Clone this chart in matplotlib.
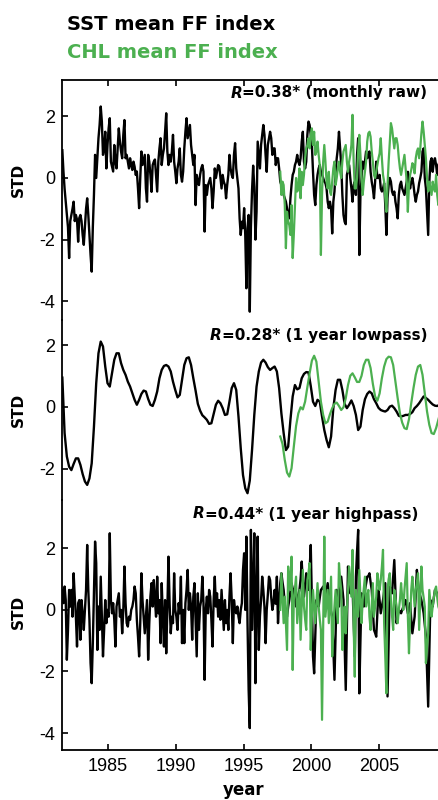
#
# SST / CHL mean FF index, three stacked panels (raw, lowpass, highpass)
#
import numpy as np
import matplotlib
matplotlib.use("Agg")
import matplotlib.pyplot as plt

plt.rcParams['font.family'] = ['Liberation Sans', 'DejaVu Sans']
plt.rcParams['axes.unicode_minus'] = False

# Data
##########################################################################################
sst_start = 1981.625      # monthly SST series
chl_start = 1997.708      # monthly CHL series (SeaWiFS era)
low_step = 1.0 / 6        # lowpass curves read every two months

sst_raw = [0.9, 0.2, -0.35, -0.77, -1.2, -1.6, -2.6, -1.4, -1.2, -1.0,
           -0.77, -1.4, -1.2, -1.35, -2.07, -1.3, -1.2, -1.4, -1.85, -2.17,
           -1.6, -1.0, -0.66, -1.2, -1.85, -2.5, -3.04, -1.6, -0.55, 0.75,
           0.0, 0.64, 1.29, 1.72, 2.32, 1.83, 0.75, 0.96, 1.5, 0.31,
           1.07, 1.61, 1.94, 0.53, 0.37, 0.21, 1.07, 0.53, 0.31, 0.96,
           1.61, 1.18, 0.86, 0.64, 1.4, 1.88, 0.64, 0.75, 0.53, 0.31,
           0.64, 0.42, 0.26, 0.53, 0.37, 0.1, 0.21, -0.34, -0.98, 0.0,
           0.86, 0.42, 0.58, 0.75, -0.34, -0.77, 0.75, 0.53, 0.1, -0.45,
           0.42, 0.53, 0.6, 0.1, -0.44, 0.53, 0.96, 1.29, 0.42, 0.75,
           0.96, 1.5, 2.1, 0.86, 0.42, 0.75, 0.53, 0.86, 1.4, 0.53,
           0.21, -0.17, 0.31, 0.53, 0.96, 0.1, -0.12, 0.21, 0.96, 1.5,
           1.94, 1.29, 1.5, 1.72, 1.07, 0.75, 0.42, 0.75, -0.88, 0.1,
           -0.12, -0.23, 0.1, 0.31, 0.42, 0.21, -1.74, -0.23, -0.55, -0.23,
           -0.12, 0.0, -0.34, -0.98, -0.44, 0.31, 0.0, 0.21, 0.42, 0.37,
           0.0, -0.34, 0.1, -0.12, -0.23, -0.66, -0.23, 0.1, 0.75, 0.31,
           0.1, 0.0, 0.75, 1.13, 0.31, 0.0, -0.34, -1.31, -1.85, -1.42,
           -1.63, -0.98, -1.85, -3.58, -1.63, -1.2, -4.34, -1.6, -0.4, 0.4,
           -0.3, -2.0, -1.1, 1.18, 0.75, 0.31, 1.07, 1.4, 1.72, 1.4,
           0.75, 0.2, 1.07, 1.29, 1.5, 1.29, 0.75, 0.96, 0.96, 0.42,
           0.64, 0.64, 0.31, -0.12, -0.23, -0.34, -0.55, -0.66, -0.77, -0.98,
           -1.2, -1.31, -0.66, -0.23, 0.1, 0.2, 0.42, 0.53, 0.75, 0.53,
           0.42, 0.64, 1.18, 1.5, 0.53, 0.31, 0.53, 1.4, 1.83, 1.72,
           1.4, 1.07, 0.2, -0.55, -0.88, -0.23, 0.1, 0.31, 0.42, 0.2,
           0.1, 0.0, -0.12, -0.17, -0.34, -0.77, -0.98, -0.77, -0.98, -1.8,
           -0.77, -0.44, 0.2, 0.64, 0.96, 1.5, 0.96, 0.42, -0.55, -1.2,
           -1.42, -1.5,
           0.1, 0.26, 0.42, 0.0, -0.34, -0.77, -0.23, -0.12, -0.55, 0.75,
           1.29, -2.5, -0.55, 0.0, 0.53, 0.31, 0.53, 0.86, 0.64, 0.7,
           0.86, 0.2, -0.12, -0.34, -0.66, -0.12, 0.53, 0.0, 0.0, 0.1,
           -0.34, -0.44, -0.34, -0.17, -0.88, -1.85, -0.66, -0.23, 0.0, -0.12,
           -0.44, -0.55, -0.44, -0.77, -0.98, -1.31, -0.55, -0.23, -0.12, -0.34,
           -0.44, -0.55, -0.34, -0.12, 0.2, -0.12, -0.34, -0.12, 0.0, -0.23,
           -0.55, -0.77, -0.55, -0.44, -0.17, 0.0, 0.2, 0.86, 0.96, 0.0,
           -0.34, -1.1, -1.85, -0.12, 0.53, 0.64, 0.2, 0.53, 0.64, 0.42,
           0.1, 0.42, 0.53]

chl_raw = [0.2, -0.55, -0.12, -0.23, -0.88, -2.28, -1.1, -1.42, -1.53, -1.85,
           -0.88, -2.6, -1.85, -0.88, 0.0, -0.44, -0.34, 0.31, -0.66, 0.2,
           -0.23, 0.1, 0.64, 0.96, 1.07, 1.29, 0.96, 1.4, 1.61, 1.07,
           1.5, 0.75, 0.86, 1.18, 0.75, 0.42, -2.5, -0.55, 0.53, 1.07,
           0.53, -0.12, -0.34, 0.2, -0.44, -0.55, -0.12, 0.31, 0.53, -0.23,
           0.0, 0.31, 0.53, 0.2, 0.0, 0.53, 0.86, 0.96,
           1.07, 0.53, 0.2, 0.53, 0.75, 1.07, 2.05, 0.53, -0.34, -0.34,
           0.0, 0.86, 1.4, 0.75, 0.0, -0.55, -0.12, 0.2, 0.53, 1.18,
           1.45, 1.5, 1.34, 0.86, 0.53, 0.1, 0.0, 0.2, 0.42, 0.64,
           0.8, 1.29, 0.64, 0.1, -0.12, -0.66, -1.1, -0.23, 0.53, 1.18,
           1.78, 1.61, 1.29, 0.96, 1.29, 1.29, 1.07, 0.64, 0.31, 0.1,
           0.31, 0.53, 0.75, 0.31, -0.12, -1.1, -0.23, 0.1, 0.26, 0.48,
           0.42, 0.15, 0.64, 0.86, 0.96, 0.64, 0.96, 1.45, 1.83, 1.5,
           1.07, 0.64, 0.0, -0.44, -0.12, -0.34, -0.55, -0.12, -0.34, -0.44,
           0.1, -0.55, -0.88, -0.34]

sst_low = [0.95, -0.85, -1.61, -1.94, -2.05, -1.85, -1.67, -1.67, -1.88, -2.18,
           -2.42, -2.53, -2.32, -1.83, -0.64, 0.77, 1.74, 2.12, 1.96, 1.31,
           0.77, 0.66, 1.09, 1.53, 1.74, 1.74, 1.42, 1.2, 1.04, 0.82,
           0.66, 0.44, 0.23, 0.07, 0.23, 0.42, 0.53, 0.5, 0.26, 0.07,
           0.03, 0.23, 0.5, 0.93, 1.2, 1.33, 1.36, 1.31, 1.15, 0.82,
           0.55, 0.31, 0.39, 0.88, 1.36, 1.58, 1.61, 1.36, 0.93, 0.53,
           0.1, -0.12, -0.27, -0.34, -0.42, -0.55, -0.53, -0.23, 0.07, 0.2,
           0.12, -0.04, -0.26, -0.24, 0.17, 0.61, 0.77, 0.55, -0.31, -1.34,
           -2.21, -2.64, -2.8, -2.39, -1.4, -0.26, 0.66, 1.15, 1.44, 1.53,
           1.44, 1.29, 1.2, 1.26, 1.31, 1.15, 0.61, -0.21, -0.85, -1.4,
           -1.29, -0.42, 0.34, 0.71, 0.57, 0.61, 0.93, 1.07, 1.13, 1.12,
           0.68, 0.17, 0.03, 0.23, 0.17, -0.31, -0.75, -1.07, -1.31, -0.96,
           -0.04, 0.55, 0.88, 0.88, 0.55, 0.1, -0.04, 0.07, 0.21, 0.03,
           -0.26, -0.75, -0.64, -0.1, 0.25, 0.42, 0.5, 0.44, 0.25, 0.12,
           -0.03, -0.1, -0.13, -0.15, -0.1, 0.01, 0.04, -0.04, -0.15, -0.29,
           -0.31, -0.29, -0.26, -0.26, -0.23, -0.17, -0.04, 0.03, 0.12, 0.23,
           0.34, 0.29, 0.23, 0.15, 0.08, 0.04, 0.03, 0.07]

chl_low = [-0.96, -1.2, -1.72, -2.13, -2.26, -1.99, -1.29, -0.62, -0.21, -0.01,
           -0.08, 0.17, 0.64, 1.09, 1.5, 1.66, 1.47, 0.82, 0.17, -0.26,
           -0.53, -0.48, -0.24, -0.04, 0.1, 0.14, 0.03, -0.1, -0.01, 0.28,
           0.71, 1.01, 1.09, 0.96, 0.81, 0.81, 1.01, 1.36, 1.53, 1.53,
           1.26, 0.75, 0.34, 0.2, 0.44, 0.93, 1.31, 1.55, 1.63, 1.61,
           1.36, 0.82, 0.28, -0.21, -0.51, -0.69, -0.72, -0.4, 0.12, 0.61,
           1.04, 1.31, 1.36, 1.04, 0.44, -0.15, -0.58, -0.85, -0.88, -0.69,
           -0.42, -0.15]

sst_high = [0.65, 0.22, 0.76, 0.32, -1.62, -0.65, 0.65, 0.11, 0.65, -0.22,
            1.19, 0.43, -0.22, -1.19, 0.22, 0.32, -0.97, 0.32, -0.11, -0.65,
            0.0, 0.65, 2.11, 0.65, -0.32, -1.73, -2.38, -1.08, 0.65, 2.22,
            1.52, -1.3, 0.11, -0.65, 1.08, -0.22, -1.51, -0.65, 0.32, -0.43,
            0.0, -0.22, 2.49, 0.32, -0.11, 0.22, -0.32, -1.19, 0.11, 0.32,
            0.54, -0.22, 0.0, -0.76, 0.0, 1.41, 0.22, -0.43, -0.54, -0.22,
            -0.32, 0.0, 0.11, 0.32, 0.76, 0.54, -0.32, -0.87, -1.51, -0.43,
            1.19, 0.32, -0.22, -0.76, -0.22, 0.32, -1.62, -0.43, 0.43, 0.87,
            0.11, 0.97, 0.32, -0.22, 1.08, -0.11, 0.32, -1.08, 0.87, -0.22,
            -1.19, 0.32, -1.41, 0.0, 1.73, 0.22, -0.76, -0.22, -0.43,
            1.19, 0.0, -0.22, -0.65, 0.22, -0.11, 1.08, -1.08, 0.0, -1.08,
            0.22, 0.65, 1.3, 0.0, 0.54, 0.11, -0.97, 0.43, 0.87, -0.32,
            -1.51, 0.54, -0.65, 0.11, 0.32, 1.08, 0.22, -2.27, 0.0,
            0.43, -0.11, 0.65, 0.43, -0.32, -1.19, 0.32, 1.08, 0.11, 0.54,
            -0.22, 0.32, -0.32, 0.65, 0.0, -0.65, 0.32, -0.43, 0.0, -0.65,
            0.43, 1.19, 0.32, -1.08, 0.32, 0.0, -0.11, 0.11, -0.22, -0.43,
            0.0, 0.22, 1.3, 1.84, 0.0, 2.38, -0.43, -2.6, -3.84,
            2.6, -0.65, 0.8, 2.49, -2.38, 0.3, 2.38, -1.3, -0.2, 0.32,
            1.08, 0.65, 0.1, -1.08, 0.0, 0.5, 1.08, 0.97, 0.4, 0.0,
            0.22, 0.65, 0.2, 1.08, -0.43, 0.3, 0.87,
            1.19, 0.9, 0.65, 0.2, -0.1, -0.22, 0.1, 0.32, 0.6, 0.87,
            0.7, 0.65, 0.35, 0.11, 0.4, 0.5, 0.65, 1.0, 1.57, 0.9,
            0.43, 0.8, 1.19, 0.9, 0.65, 1.3, 2.11, 0.3, -1.51, -2.06,
            -0.9, 0.32, 0.2, 0.11, 0.4, 0.65, 0.7, 0.76, 0.6, 0.43,
            0.65, 0.87, 0.5, 0.11, -0.05, -0.22, -1.2, -2.27, -0.8, 0.65,
            0.4, 0.11, 0.6, 1.08, 0.7, 0.32, -1.1, -2.6, -0.6, 1.41,
            0.9, 0.54, 0.65, 0.76, -0.4, -1.51, 1.08, 1.9, 2.6, -2.71,
            -1.0, 0.54, 0.3, 0.11, 0.65, 0.85, 1.08, 1.1, 1.19, 0.9,
            0.65, 0.0, -0.65, -0.75, -0.87, -0.1, 0.65, 0.3, -0.11, 0.1,
            0.32, 0.6, 0.87, -1.0, -2.81, -1.0, 0.76, 0.65, 0.54, 1.1,
            1.62, 0.6, -0.43, -0.2, 0.0, -0.05, -0.11, 0.0, 0.11, 0.2,
            0.32, 0.1, -0.11, 0.05, 0.22, -0.3, -0.76, -0.5, -0.22, 0.5,
            1.3, 0.9, 0.54, 0.45, 0.32, 0.1, -0.11, -0.5, -0.87, -2.0,
            -3.14, -1.4, 0.32, 0.2, 0.11, 0.4, 0.65, 0.6, 0.54, 0.4,
            0.32]

chl_high = [0.0, 1.19, 0.4, -0.43, 0.43, -0.4, -1.3, 1.41, 1.0, 0.65,
            1.73, -1.95, 0.32, 0.7, 1.08, -0.43, 0.1, 0.65, -0.97, 0.2,
            1.3, 0.11, -0.3, -0.65, 0.97, 1.2, 1.52, -1.3, -0.2, 0.65,
            0.11, -0.43, 0.2, 0.87, 0.11, -0.3, -0.65, -3.57, -0.5, 2.38,
            -0.22, 0.2, 0.65, -0.43, 0.3, 1.08, -1.51, -0.6, 0.11, 0.65,
            0.1, -0.43, 1.52, 1.0, 0.65, -1.3, -0.5, 0.11, -0.76, 0.0,
            0.65, 1.41, 0.9, 0.43, 1.95, -0.5, -2.17, 0.65, 0.2, -0.22,
            1.3, 0.4, -0.43, 0.32, 0.7, 1.08, 0.11, 0.4, 0.65, -0.22,
            -0.65, 0.1, 0.87, -0.22, 0.1, 0.43, 1.19, 0.9, 0.65, 0.97,
            1.4, 1.95, -0.43, -1.5, -2.71, 0.65, 1.0, 1.19, 0.32, -0.2,
            -0.65, 0.65, 0.4, 0.11, -0.43, 0.0, 0.32, 0.87, 0.4, 0.0,
            0.65, 1.1, 1.52, -0.22, -1.41, -0.3, 0.65, 1.08, 0.6, 0.11,
            0.65, 0.9, 1.19, -0.65, 0.4, 1.41, 0.65, 0.4, 0.11, -1.73,
            -1.2, -0.76, 0.65, 0.2, -0.22, 0.11, 0.4, 0.65, 0.76, 0.4,
            0.11, 0.0]

panel_labels = ["=0.38* (monthly raw)", "=0.28* (1 year lowpass)", "=0.44* (1 year highpass)"]
year_ticks = [1985, 1990, 1995, 2000, 2005]

# Figure
##########################################################################################
GREEN = '#4cb050'
W, H = 438, 800


def box(x0, y0, x1, y1):
    # pixel box (top-left origin) -> figure fraction rect
    return [x0 / W, 1 - y1 / H, (x1 - x0) / W, (y1 - y0) / H]


def monthly(start, vals, step=1.0 / 12):
    return start + np.arange(len(vals)) * step


fig = plt.figure(figsize=(W / 100, H / 100), dpi=100)
ax1 = fig.add_axes(box(62, 80, 438, 320))
ax2 = fig.add_axes(box(62, 320, 438, 500))
ax3 = fig.add_axes(box(62, 500, 438, 750))
axes = [ax1, ax2, ax3]

ax1.plot(monthly(sst_start, sst_raw), sst_raw, color='k', lw=1.7)
ax1.plot(monthly(chl_start, chl_raw), chl_raw, color=GREEN, lw=1.6)
ax2.plot(monthly(sst_start, sst_low, low_step), sst_low, color='k', lw=1.7)
ax2.plot(monthly(chl_start, chl_low, low_step), chl_low, color=GREEN, lw=1.6)
ax3.plot(monthly(sst_start, sst_high), sst_high, color='k', lw=1.7)
ax3.plot(monthly(chl_start, chl_high), chl_high, color=GREEN, lw=1.6)

ylims = [(-4.61, 3.18), (-3.02, 2.82), (-4.55, 3.57)]
yticks = [[-4, -2, 0, 2], [-2, 0, 2], [-4, -2, 0, 2]]
std_y = [180, 410, 612]
for ax, yl, yt, sy in zip(axes, ylims, yticks, std_y):
    ax.set_xlim(1981.6, 2009.35)
    ax.set_ylim(*yl)
    ax.set_yticks(yt)
    ax.patch.set_alpha(0)
    for s in ['top', 'right', 'bottom']:
        ax.spines[s].set_visible(False)
    ax.spines['left'].set_linewidth(1.3)
    ax.tick_params(axis='y', direction='in', length=4, width=1.2, labelsize=13, pad=5)
    ax.tick_params(axis='x', direction='in', length=4, width=1.2, labelsize=13,
                   bottom=False, labelbottom=False)
    ax.set_xticks(year_ticks)
    fig.text(18 / W, 1 - sy / H, "STD", rotation=90, ha='center', va='center',
             fontsize=11, fontweight='bold', family='DejaVu Sans')

ax1.spines['top'].set_visible(True)
ax1.spines['top'].set_linewidth(1.3)
ax1.tick_params(axis='x', top=True)
ax3.spines['bottom'].set_visible(True)
ax3.spines['bottom'].set_linewidth(1.3)
ax3.tick_params(axis='x', bottom=True, labelbottom=True, pad=6)

# R labels, with an italic R
for ax, txt, (xr, yr) in zip(axes, panel_labels, [(427, 93), (427, 336), (418, 514)]):
    t = fig.text(xr / W, 1 - yr / H, txt, ha='right', va='center',
                 fontsize=11, fontweight='bold', family='DejaVu Sans')
    ax.annotate("R", xy=(0, 0.5), xycoords=t, ha='right', va='center',
                fontsize=11, fontweight='bold', fontstyle='italic',
                family='DejaVu Sans', annotation_clip=False)

fig.text(67 / W, 1 - 25 / H, "SST mean FF index", ha='left', va='center',
         fontsize=14, fontweight='bold', family='DejaVu Sans', color='k')
fig.text(67 / W, 1 - 52 / H, "CHL mean FF index", ha='left', va='center',
         fontsize=14, fontweight='bold', family='DejaVu Sans', color=GREEN)
fig.text(244 / W, 1 - 790 / H, "year", ha='center', va='center',
         fontsize=12, fontweight='bold', family='DejaVu Sans')

plt.savefig("out.png", dpi=100)
